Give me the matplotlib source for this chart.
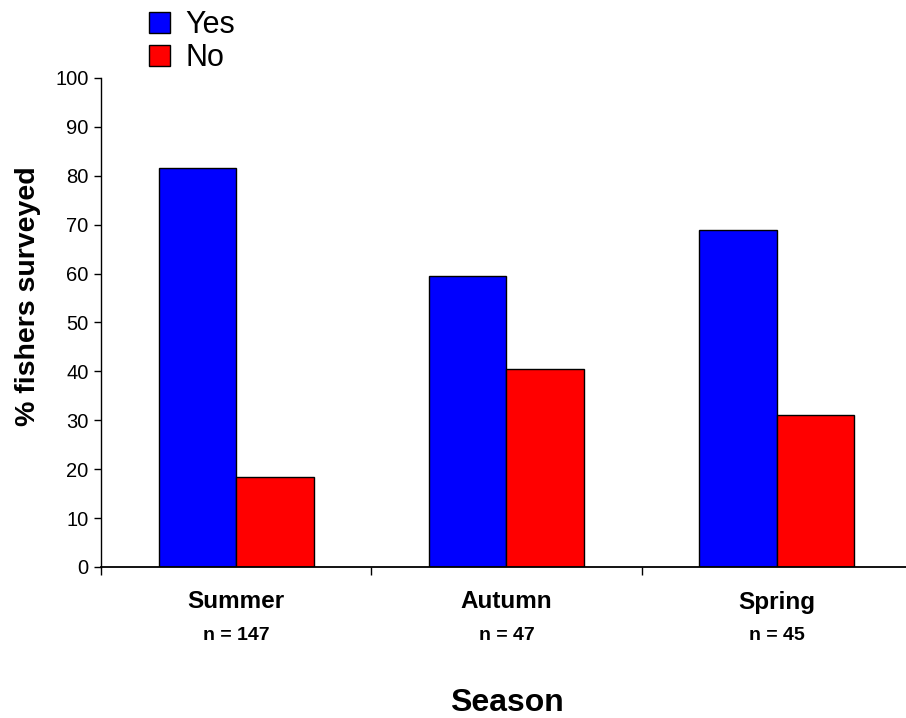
import matplotlib
matplotlib.use("Agg")
import matplotlib.pyplot as plt
import matplotlib.transforms as mtransforms
import numpy as np

seasons = ["Summer", "Autumn", "Spring"]
sample_sizes = ["n = 147", "n = 47", "n = 45"]
yes_pct = [81.6, 59.6, 68.9]
no_pct = [18.4, 40.4, 31.1]

plt.rcParams['font.family'] = ['Liberation Sans', 'DejaVu Sans']

fig = plt.figure(figsize=(9.06, 7.18), dpi=100)
ax = fig.add_axes([101 / 906, 151 / 718, 805 / 906, 489 / 718])

x = np.arange(len(seasons))
w = 0.287
bar_yes = ax.bar(x - w / 2, yes_pct, w, color='#0000ff', edgecolor='black', linewidth=1, label='Yes')
bar_no = ax.bar(x + w / 2, no_pct, w, color='#ff0000', edgecolor='black', linewidth=1, label='No')

ax.set_xlim(-0.5, 2.5 - 6 / 270.5)
ax.set_ylim(0, 100)
ax.set_yticks(np.arange(0, 101, 10))
ax.tick_params(axis='y', labelsize=14.5, length=5, width=1, direction='out', pad=4)

ax.set_xticks([])
ax.set_xticks([-0.5, 0.5, 1.5], minor=True)
ax.tick_params(axis='x', which='minor', length=6, width=1, direction='out')

ax.spines['top'].set_visible(False)
ax.spines['right'].set_visible(False)
ax.spines['left'].set_linewidth(1)
ax.spines['bottom'].set_linewidth(1.3)

trans = mtransforms.blended_transform_factory(ax.transData, ax.transAxes)
for i in range(len(seasons)):
    ax.text(i, -35 / 489, seasons[i], transform=trans, ha='center', va='center',
            fontsize=17.5, fontweight='bold')
    ax.text(i, -68 / 489, sample_sizes[i], transform=trans, ha='center', va='center',
            fontsize=14, fontweight='bold')

fig.text(507 / 906, 1 - 703 / 718, "Season", ha='center', va='center', fontsize=23, fontweight='bold')
fig.text(28 / 906, 1 - 296 / 718, "% fishers surveyed", ha='center', va='center', rotation=90,
         fontsize=20.5, fontweight='bold')

fig.legend(handles=[bar_yes, bar_no], loc='upper left', bbox_to_anchor=(149 / 906, 1 - 10 / 718),
           frameon=False, fontsize=22, handlelength=0.7, handleheight=0.7, handletextpad=0.5,
           labelspacing=0.1, borderaxespad=0, borderpad=0)

fig.savefig("out.png", dpi=100)
